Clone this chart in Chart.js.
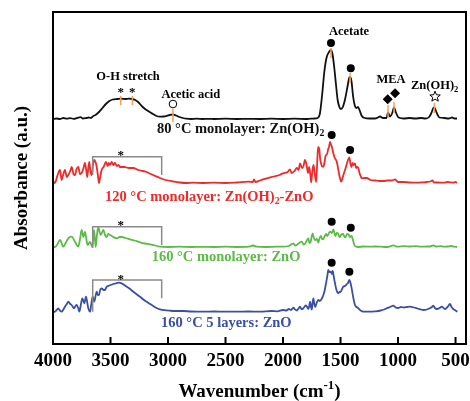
<!DOCTYPE html>
<html><head><meta charset="utf-8">
<script src="https://cdn.jsdelivr.net/npm/chart.js@4.4.0/dist/chart.umd.min.js"></script>
<style>html,body{margin:0;padding:0;background:#fff}canvas{display:block}</style>
</head><body>
<canvas id="c" width="470" height="401"></canvas>
<script>
// ---- data (wavenumber cm-1, absorbance a.u. relative to each trace's baseline) ----
const xTicks = [4000, 3500, 3000, 2500, 2000, 1500, 1000, 500];
const seriesNames = ['80 °C monolayer: Zn(OH)2', '120 °C monolayer: Zn(OH)2-ZnO', '160 °C monolayer: ZnO', '160 °C 5 layers: ZnO'];
const seriesOffsets = [225, 161, 97, 32];

const spec80 = [[4000,0],[3970,0.5],[3940,0],[3910,1],[3880,0.3],[3850,0.8],[3820,0.2],[3790,1],[3760,1.8],[3740,0.5],[3710,1],[3690,1.5],[3670,1],[3650,3],[3630,4],[3600,7],[3570,11],[3540,15],[3510,18],[3480,19.5],[3440,20],[3411,20.3],[3370,20],[3340,20.3],[3310,20],[3285,19],[3260,17],[3240,14.5],[3220,12],[3200,10],[3180,8.5],[3160,7],[3130,5],[3100,3],[3070,2.3],[3040,2.5],[3010,3.2],[2985,4],[2957,4.5],[2930,3.5],[2900,2],[2870,1],[2840,0.3],[2800,0],[2750,0.3],[2700,0],[2650,0.2],[2600,0],[2500,0.3],[2400,0],[2300,0.2],[2200,0],[2100,0.3],[2000,0],[1900,0.3],[1800,0],[1760,0.3],[1720,0.5],[1700,1],[1680,5],[1660,24],[1640,48],[1620,62],[1600,67],[1583,69],[1570,65],[1555,52],[1540,35],[1525,19],[1510,12],[1497,10],[1480,12],[1460,20],[1440,32],[1425,41],[1417,42],[1405,38],[1390,22],[1375,13],[1360,11],[1348,12],[1335,9],[1315,3],[1290,1],[1250,0.5],[1200,0.5],[1175,1.5],[1157,2.5],[1130,1],[1100,1],[1087,6.5],[1070,2.5],[1050,6],[1035,11.5],[1020,7],[1000,2],[980,1],[950,0.5],[900,1],[850,0.5],[800,1],[760,0.5],[730,2],[710,6],[695,10.5],[684,11.5],[670,8],[655,4],[640,1.5],[600,1],[560,0.5],[530,1.5],[510,0.5],[487,0.5]];

const spec120 = [[4000,2],[3983,0],[3960,8],[3939,13],[3925,3],[3910,9],[3896,13],[3880,6],[3867,8],[3850,12],[3838,16],[3822,9],[3809,8],[3795,14],[3780,16],[3765,9],[3751,10],[3737,14],[3722,20],[3710,12],[3702,6],[3693,15],[3684,21],[3675,12],[3664,8],[3652,18],[3641,23],[3630,21],[3620,16],[3610,8],[3600,0],[3590,6],[3577,13],[3560,16],[3539,21],[3525,17],[3515,20],[3504,18],[3490,21],[3475,18],[3461,20],[3445,17],[3430,18],[3417,16],[3380,16],[3340,15],[3302,15],[3260,13],[3220,12],[3185,11],[3150,9],[3110,7],[3070,5],[3020,3],[2954,1.5],[2900,0.5],[2837,0],[2780,0.3],[2700,0],[2600,0.3],[2500,0],[2400,0.5],[2300,1.3],[2262,1],[2252,3.5],[2240,1],[2200,2.5],[2142,4.7],[2080,6.5],[2030,8],[2000,9.7],[1960,11],[1939,13.7],[1925,10],[1900,12],[1880,15],[1865,13],[1852,19.7],[1835,15],[1822,17],[1809,23],[1795,18],[1783,10],[1772,16],[1762,8],[1755,0.5],[1745,12],[1735,18],[1725,10],[1712,1],[1703,20],[1695,36],[1685,34],[1677,24],[1670,20],[1660,16.3],[1649,16.3],[1640,20],[1630,27],[1617,29],[1607,34],[1600,36],[1591,41],[1582,38],[1575,36],[1563,30],[1550,25],[1539,23],[1530,20],[1519,13],[1505,5],[1495,1.3],[1485,4],[1475,8],[1461,13],[1448,18],[1435,23],[1423,25.7],[1415,20],[1405,16],[1395,20],[1385,18],[1374,19.7],[1365,15],[1355,16],[1345,15],[1335,10],[1325,7],[1316,4.7],[1290,5],[1272,5],[1240,3],[1200,2.5],[1160,2],[1130,2],[1090,2.5],[1060,2.5],[1040,3],[1026,3.7],[1010,2],[1000,1],[950,1],[900,0.5],[838,0.3],[780,0.7],[750,1],[720,1.5],[698,2.5],[690,0.5],[650,0.5],[600,0.3],[570,1],[548,0.7],[520,0.3],[500,1],[487,0]];

const spec160 = [[4000,0],[3983,0],[3960,3],[3939,7],[3910,0.3],[3890,4],[3867,8.7],[3838,10.3],[3809,5.3],[3780,0.3],[3765,8],[3751,17],[3736,10],[3722,15],[3710,8],[3699,2],[3678,5],[3658,0],[3643,17],[3629,0],[3618,12],[3606,20],[3595,15],[3585,12],[3562,17],[3548,12],[3533,10],[3520,13],[3504,12],[3475,10],[3446,8.7],[3420,10],[3403,10],[3370,9],[3330,7.7],[3290,6.5],[3243,4.7],[3200,3.5],[3157,2.7],[3110,1.5],[3070,0.3],[3000,0],[2900,0.3],[2800,0],[2700,0.2],[2600,0],[2500,0.3],[2400,0],[2300,0.3],[2260,1.5],[2230,0.3],[2150,0],[2050,0.3],[2000,0.3],[1950,1],[1910,3.7],[1895,1.5],[1880,2],[1860,4],[1837,5.3],[1820,2.5],[1810,3],[1795,6],[1780,8.7],[1770,4],[1760,5],[1752,10],[1742,13.7],[1732,9],[1720,7],[1705,8],[1693,4.3],[1682,9],[1670,11],[1660,8],[1649,8],[1637,11],[1626,13],[1615,11],[1605,13],[1591,15.3],[1575,14],[1563,17.7],[1555,15],[1545,11],[1532,14],[1519,13],[1508,9.7],[1495,12],[1476,13],[1465,10],[1455,10],[1443,13],[1432,12.7],[1418,10],[1403,11],[1392,7],[1380,2],[1365,0.5],[1350,0],[1300,0.5],[1250,0.3],[1200,0.5],[1150,0.3],[1100,0],[1070,0.7],[1041,1.7],[1020,0.7],[1000,0.3],[950,0.8],[900,0.5],[850,0.8],[800,0.3],[750,0.5],[720,0.5],[693,1.7],[670,0.5],[630,0.8],[600,0.3],[570,0.5],[540,1],[510,0.3],[487,0]];

const spec160x5 = [[4000,0],[3983,0.3],[3968,2],[3954,3.7],[3940,1.5],[3925,0.3],[3910,2.5],[3896,5.3],[3880,8],[3867,10.3],[3850,8],[3838,7],[3817,3.7],[3805,6],[3794,7],[3781,4],[3771,0.3],[3760,6],[3745,13.7],[3728,8.7],[3713,15.3],[3700,8],[3693,3.7],[3678,0.3],[3667,8],[3655,15.3],[3641,10.3],[3630,16],[3620,20.3],[3610,17],[3600,17],[3590,22],[3577,23.7],[3560,22],[3548,22],[3535,25],[3519,26],[3500,27],[3476,28],[3455,28.5],[3432,29.3],[3403,28.7],[3380,27],[3359,25.3],[3330,23],[3302,20.3],[3270,17.5],[3243,15.3],[3215,12.5],[3185,10.3],[3155,8],[3128,6],[3100,4],[3070,2.7],[3030,1.8],[2983,1.3],[2930,1],[2870,1],[2800,0.5],[2700,0.3],[2600,0.5],[2500,0.3],[2400,0.3],[2300,0.5],[2200,0.3],[2100,1],[2050,0.7],[2000,2],[1970,1.5],[1950,3],[1930,2],[1910,4.3],[1895,2.5],[1880,1.5],[1865,3.5],[1852,5.3],[1840,3],[1830,3],[1815,5],[1800,6.7],[1790,5],[1780,3],[1772,6],[1765,10.3],[1757,5],[1750,2.5],[1743,9],[1736,13.7],[1728,8],[1720,5],[1708,9],[1693,12],[1680,11],[1670,12],[1660,14],[1649,17],[1637,22],[1626,28.7],[1615,36],[1606,42],[1597,40],[1590,40],[1583,40.3],[1575,38],[1568,41],[1558,35],[1548,28.7],[1535,22],[1519,18.7],[1510,20],[1500,20],[1490,22],[1476,25.3],[1460,26],[1447,27.7],[1435,29],[1423,32],[1413,29],[1403,23.7],[1390,15],[1374,7],[1360,5],[1345,3.7],[1325,1.5],[1302,0.3],[1250,0.3],[1200,0.7],[1150,1.5],[1120,2.5],[1098,3.7],[1070,5],[1041,6.3],[1020,4.5],[1000,4],[975,5],[950,4.5],[920,5],[896,5.3],[860,4.5],[830,3.5],[800,2.5],[780,2],[750,2.5],[720,4],[705,5],[693,6.3],[680,4],[660,3],[640,4],[620,5.3],[605,4],[590,3],[570,5],[548,8],[535,5],[520,3],[500,1.5],[484,0.3]];

const allSpectra = [spec80, spec120, spec160, spec160x5];
const seriesColors = ['#111111', '#ee2a2a', '#5cba47', '#3a4fa5'];

// ---- chart ----
const SERIF = '"Liberation Serif","Times New Roman",serif';

const datasets = allSpectra.map((s, i) => ({
  label: seriesNames[i],
  data: s.map(([w, a]) => ({x: w, y: a + seriesOffsets[i]})),
  borderColor: seriesColors[i],
  borderWidth: 1.8,
  pointRadius: 0,
  fill: false,
  cubicInterpolationMode: 'monotone'
}));

function richText(ctx, x, y, parts, size, color, align) {
  // parts: [text, mode] mode: 0 normal, 1 subscript, 2 superscript
  const widths = parts.map(([t, m]) => {
    ctx.font = 'bold ' + (m ? size * 0.68 : size) + 'px ' + SERIF;
    return ctx.measureText(t).width;
  });
  const total = widths.reduce((a, b) => a + b, 0);
  let cx = align === 'center' ? x - total / 2 : x;
  ctx.fillStyle = color;
  ctx.textAlign = 'left';
  ctx.textBaseline = 'middle';
  parts.forEach(([t, m], k) => {
    ctx.font = 'bold ' + (m ? size * 0.68 : size) + 'px ' + SERIF;
    const dy = m === 1 ? size * 0.32 : (m === 2 ? -size * 0.33 : 0);
    ctx.fillText(t, cx, y + dy);
    cx += widths[k];
  });
}

const annotations = {
  id: 'annotations',
  afterDraw(chart) {
    const ctx = chart.ctx;
    const X = v => chart.scales.x.getPixelForValue(v);
    const Y = v => chart.scales.y.getPixelForValue(v);
    const ca = chart.chartArea;
    ctx.save();

    // frame and inward ticks
    ctx.strokeStyle = '#000';
    ctx.lineWidth = 2;
    ctx.strokeRect(ca.left, ca.top, ca.right - ca.left, ca.bottom - ca.top);
    chart.scales.x.ticks.forEach(t => {
      const p = X(t.value);
      ctx.beginPath(); ctx.moveTo(p, ca.bottom); ctx.lineTo(p, ca.bottom - 7); ctx.stroke();
    });

    // orange peak marks on the 80 °C trace
    ctx.strokeStyle = '#f5a05a';
    ctx.lineWidth = 1.5;
    [[3411, 239, 248], [3310, 239, 248], [2957, 222, 235], [1583, 286, 296], [1417, 261, 271],
     [1087, 226, 239], [1035, 231, 242], [684, 231, 241]].forEach(([w, a, b]) => {
      ctx.beginPath(); ctx.moveTo(X(w), Y(a)); ctx.lineTo(X(w), Y(b)); ctx.stroke();
    });

    // brackets over the O-H region
    ctx.strokeStyle = '#8a8a8a';
    ctx.lineWidth = 1.5;
    [[187.3, 169, 169], [117.3, 96, 99], [64, 32.3, 45.7]].forEach(([top, l, r]) => {
      ctx.beginPath();
      ctx.moveTo(X(3655), Y(l)); ctx.lineTo(X(3655), Y(top));
      ctx.lineTo(X(3055), Y(top)); ctx.lineTo(X(3055), Y(r));
      ctx.stroke();
    });

    // asterisks
    ctx.fillStyle = '#000';
    ctx.font = 'bold 13px ' + SERIF;
    ctx.textAlign = 'center';
    ctx.textBaseline = 'alphabetic';
    [[3411, 256], [3310, 256], [3411, 193], [3411, 122.3], [3411, 69]].forEach(([w, v]) => {
      ctx.fillText('*', X(w), Y(v) + 7.5);
    });

    // filled dots (acetate)
    [[1583, 301], [1411, 275.7], [1577, 209], [1417, 194], [1577, 122.3], [1411, 116.3], [1577, 81.3], [1423, 72.3]].forEach(([w, v]) => {
      ctx.beginPath(); ctx.arc(X(w), Y(v), 4, 0, Math.PI * 2); ctx.fill();
    });

    // open circle (acetic acid)
    ctx.strokeStyle = '#000'; ctx.lineWidth = 1;
    ctx.beginPath(); ctx.arc(X(2957), Y(240), 3.8, 0, Math.PI * 2); ctx.stroke();

    // diamonds (MEA)
    [[1090, 244.7], [1026, 250.7]].forEach(([w, v]) => {
      const cx = X(w), cy = Y(v), r = 5;
      ctx.beginPath(); ctx.moveTo(cx, cy - r); ctx.lineTo(cx + r, cy); ctx.lineTo(cx, cy + r); ctx.lineTo(cx - r, cy); ctx.closePath(); ctx.fill();
    });

    // open star (Zn(OH)2)
    {
      const cx = X(678), cy = Y(247.3), R = 5.5, r = 2.4;
      ctx.beginPath();
      for (let k = 0; k < 10; k++) {
        const ang = -Math.PI / 2 + k * Math.PI / 5;
        const rr = k % 2 ? r : R;
        const xx = cx + rr * Math.cos(ang), yy = cy + rr * Math.sin(ang);
        k ? ctx.lineTo(xx, yy) : ctx.moveTo(xx, yy);
      }
      ctx.closePath(); ctx.lineWidth = 1; ctx.stroke();
    }

    // peak labels
    richText(ctx, X(3348), Y(267), [['O-H stretch', 0]], 12.5, '#000', 'center');
    richText(ctx, X(2802), Y(249), [['Acetic acid', 0]], 12.5, '#000', 'center');
    richText(ctx, X(1426), Y(312), [['Acetate', 0]], 12.5, '#000', 'center');
    richText(ctx, X(1061), Y(264), [['MEA', 0]], 12.5, '#000', 'center');
    richText(ctx, X(887), Y(258), [['Zn(OH)', 0], ['2', 1]], 12.5, '#000', 'left');

    // series labels
    richText(ctx, X(3096), Y(215), [['80 °C monolayer: Zn(OH)', 0], ['2', 1]], 14.5, '#111', 'left');
    richText(ctx, X(3548), Y(147), [['120 °C monolayer: Zn(OH)', 0], ['2', 1], ['-ZnO', 0]], 14.5, seriesColors[1], 'left');
    richText(ctx, X(3142), Y(86.7), [['160 °C monolayer: ZnO', 0]], 14.5, seriesColors[2], 'left');
    richText(ctx, X(3061), Y(20.7), [['160 °C 5 layers: ZnO', 0]], 14.5, seriesColors[3], 'left');

    // x axis title with superscript
    richText(ctx, (ca.left + ca.right) / 2 + 0, 392, [['Wavenumber (cm', 0], ['-1', 2], [')', 0]], 19, '#000', 'center');

    ctx.restore();
  }
};

new Chart(document.getElementById('c'), {
  type: 'line',
  data: {datasets},
  options: {
    responsive: false,
    animation: false,
    devicePixelRatio: 1,
    layout: {padding: {top: 12, right: 4, left: 0, bottom: 0}},
    plugins: {legend: {display: false}, tooltip: {enabled: false}},
    scales: {
      x: {
        type: 'linear',
        reverse: true,
        min: 409,
        max: 4000,
        afterBuildTicks: s => { s.ticks = xTicks.map(v => ({value: v})); },
        afterFit: s => { s.height = 57; s.paddingLeft = 0; s.paddingRight = 0; },
        grid: {display: false, drawTicks: false},
        border: {display: false},
        ticks: {color: '#000', padding: 6, maxRotation: 0, autoSkip: false,
                callback: v => String(v),
                font: {family: SERIF, size: 19, weight: 'bold'}}
      },
      y: {
        min: 0,
        max: 332,
        afterFit: s => { s.width = 53; },
        grid: {display: false, drawTicks: false},
        border: {display: false},
        ticks: {display: false},
        title: {display: true, text: 'Absorbance (a.u.)', color: '#000', padding: {top: 10.5, bottom: 0},
                font: {family: SERIF, size: 19, weight: 'bold'}}
      }
    }
  },
  plugins: [annotations]
});
</script>
</body></html>
